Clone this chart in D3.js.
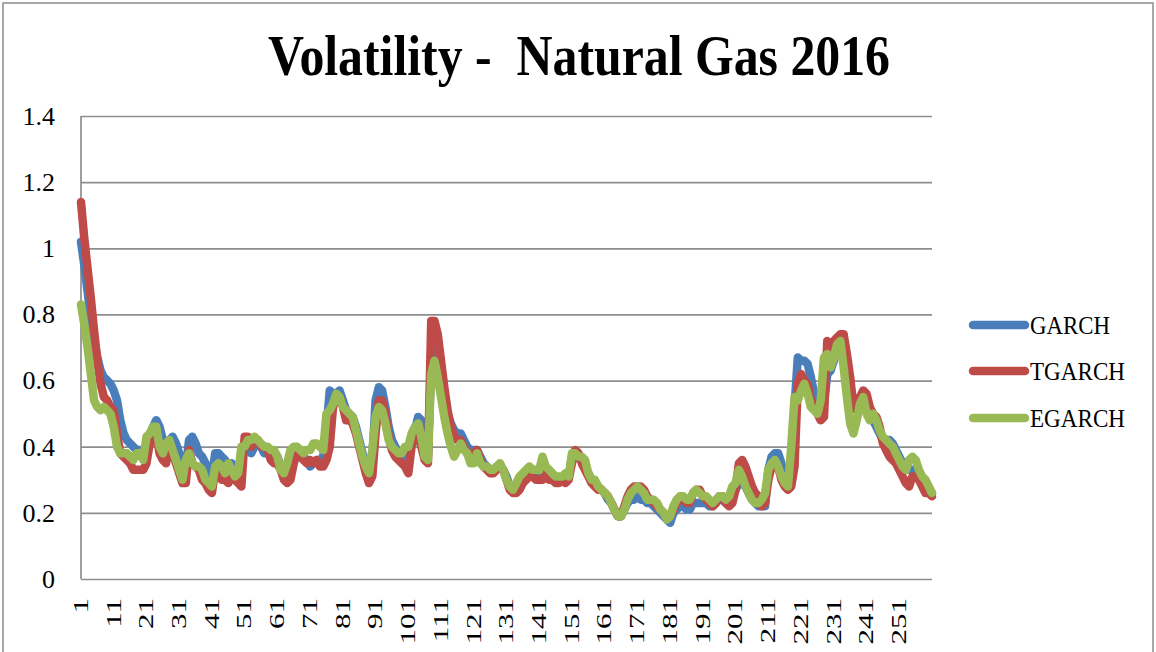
<!DOCTYPE html>
<html>
<head>
<meta charset="utf-8">
<script src="https://cdn.jsdelivr.net/npm/d3@7"></script>
<style>
  body { margin: 0; background: #fff; }
  svg { display: block; font-family: "Liberation Serif", "Times New Roman", serif; }
</style>
</head>
<body>
<div id="chart"></div>
<script>
'use strict';

// ---- data ----
var days = d3.range(1, 262);
var xTickLabels = d3.range(1, 252, 10);
var yTicks = [0, 0.2, 0.4, 0.6, 0.8, 1, 1.2, 1.4];
var yTickLabels = ['0', '0.2', '0.4', '0.6', '0.8', '1', '1.2', '1.4'];
var seriesNames = ['GARCH', 'TGARCH', 'EGARCH'];

var garch = [
  1.02,0.95,0.87,0.79,0.72,0.67,0.63,0.61,0.60,0.59,
  0.57,0.54,0.48,0.44,0.42,0.41,0.40,0.39,0.39,0.38,
  0.40,0.43,0.46,0.48,0.46,0.42,0.40,0.42,0.43,0.41,
  0.38,0.34,0.33,0.42,0.43,0.41,0.38,0.37,0.35,0.32,
  0.31,0.38,0.38,0.37,0.36,0.34,0.35,0.34,0.33,0.36,
  0.41,0.41,0.38,0.40,0.42,0.40,0.38,0.38,0.37,0.38,
  0.37,0.34,0.32,0.33,0.37,0.39,0.39,0.38,0.37,0.36,
  0.34,0.35,0.36,0.36,0.37,0.45,0.57,0.56,0.56,0.57,
  0.54,0.51,0.50,0.49,0.46,0.42,0.38,0.35,0.33,0.36,
  0.54,0.58,0.57,0.52,0.46,0.42,0.40,0.38,0.37,0.36,
  0.36,0.42,0.45,0.49,0.48,0.40,0.37,0.66,0.70,0.68,
  0.62,0.56,0.50,0.47,0.45,0.44,0.44,0.42,0.40,0.39,
  0.39,0.39,0.37,0.35,0.34,0.33,0.33,0.34,0.34,0.33,
  0.31,0.28,0.27,0.27,0.28,0.30,0.31,0.32,0.32,0.31,
  0.31,0.33,0.33,0.32,0.31,0.30,0.30,0.30,0.30,0.31,
  0.37,0.38,0.37,0.36,0.34,0.32,0.30,0.29,0.28,0.27,
  0.26,0.24,0.23,0.21,0.19,0.19,0.21,0.23,0.24,0.24,
  0.25,0.24,0.24,0.23,0.23,0.22,0.21,0.20,0.19,0.18,
  0.17,0.20,0.21,0.22,0.22,0.21,0.21,0.23,0.23,0.23,
  0.23,0.23,0.22,0.22,0.23,0.24,0.24,0.23,0.23,0.25,
  0.27,0.29,0.29,0.28,0.26,0.24,0.23,0.22,0.22,0.22,
  0.33,0.37,0.38,0.38,0.35,0.30,0.29,0.30,0.52,0.67,
  0.66,0.66,0.65,0.61,0.56,0.53,0.51,0.53,0.62,0.63,
  0.66,0.70,0.72,0.68,0.62,0.56,0.52,0.51,0.52,0.53,
  0.52,0.50,0.48,0.46,0.44,0.42,0.42,0.42,0.41,0.39,
  0.37,0.35,0.34,0.33,0.33,0.33,0.31,0.29,0.28,0.27,
  0.26
];

var tgarch = [
  1.14,1.03,0.94,0.85,0.75,0.66,0.59,0.55,0.54,0.52,
  0.51,0.44,0.38,0.37,0.36,0.35,0.33,0.33,0.33,0.33,
  0.35,0.41,0.45,0.44,0.38,0.36,0.35,0.41,0.38,0.35,
  0.32,0.29,0.29,0.39,0.35,0.34,0.33,0.30,0.29,0.27,
  0.26,0.33,0.33,0.30,0.30,0.29,0.32,0.30,0.29,0.28,
  0.43,0.43,0.40,0.42,0.42,0.40,0.40,0.39,0.36,0.35,
  0.35,0.33,0.30,0.29,0.30,0.35,0.38,0.37,0.36,0.35,
  0.36,0.35,0.36,0.34,0.34,0.36,0.40,0.52,0.55,0.55,
  0.52,0.48,0.48,0.47,0.44,0.40,0.36,0.32,0.29,0.31,
  0.44,0.54,0.54,0.50,0.43,0.39,0.37,0.36,0.35,0.34,
  0.32,0.40,0.44,0.44,0.40,0.36,0.35,0.78,0.78,0.74,
  0.66,0.58,0.51,0.46,0.43,0.42,0.42,0.40,0.38,0.38,
  0.38,0.39,0.36,0.34,0.33,0.32,0.32,0.33,0.34,0.33,
  0.30,0.27,0.26,0.26,0.27,0.29,0.30,0.31,0.31,0.30,
  0.30,0.30,0.32,0.30,0.30,0.29,0.29,0.30,0.29,0.30,
  0.35,0.39,0.38,0.35,0.33,0.31,0.29,0.28,0.27,0.27,
  0.26,0.25,0.23,0.21,0.19,0.19,0.22,0.25,0.27,0.28,
  0.28,0.28,0.27,0.25,0.24,0.23,0.22,0.21,0.20,0.19,
  0.19,0.21,0.23,0.24,0.24,0.23,0.23,0.26,0.27,0.27,
  0.25,0.24,0.23,0.22,0.23,0.25,0.25,0.23,0.22,0.23,
  0.27,0.35,0.36,0.34,0.31,0.28,0.26,0.25,0.22,0.23,
  0.30,0.34,0.35,0.34,0.30,0.28,0.27,0.28,0.34,0.59,
  0.62,0.60,0.59,0.54,0.52,0.50,0.48,0.49,0.72,0.70,
  0.72,0.73,0.74,0.74,0.68,0.61,0.52,0.51,0.55,0.57,
  0.56,0.52,0.50,0.49,0.46,0.41,0.39,0.37,0.36,0.35,
  0.33,0.31,0.29,0.28,0.31,0.31,0.30,0.28,0.26,0.26,
  0.25
];

var egarch = [
  0.83,0.77,0.70,0.62,0.54,0.52,0.51,0.52,0.51,0.50,
  0.46,0.40,0.38,0.38,0.38,0.37,0.36,0.38,0.38,0.36,
  0.43,0.44,0.46,0.46,0.40,0.38,0.41,0.42,0.39,0.36,
  0.33,0.30,0.36,0.38,0.35,0.34,0.34,0.33,0.30,0.29,
  0.28,0.34,0.35,0.34,0.32,0.35,0.33,0.31,0.32,0.40,
  0.40,0.42,0.42,0.43,0.42,0.41,0.40,0.40,0.39,0.39,
  0.37,0.33,0.32,0.35,0.39,0.40,0.40,0.39,0.38,0.39,
  0.39,0.41,0.41,0.40,0.39,0.50,0.51,0.53,0.56,0.55,
  0.52,0.51,0.50,0.49,0.45,0.41,0.37,0.34,0.32,0.39,
  0.49,0.52,0.51,0.47,0.42,0.40,0.39,0.38,0.38,0.40,
  0.40,0.44,0.46,0.47,0.43,0.37,0.36,0.62,0.66,0.61,
  0.55,0.49,0.44,0.40,0.37,0.39,0.41,0.39,0.38,0.35,
  0.35,0.38,0.35,0.34,0.34,0.33,0.33,0.34,0.35,0.33,
  0.30,0.28,0.27,0.29,0.31,0.32,0.33,0.34,0.33,0.33,
  0.33,0.37,0.34,0.33,0.32,0.31,0.31,0.31,0.32,0.31,
  0.38,0.38,0.37,0.37,0.36,0.32,0.30,0.30,0.28,0.27,
  0.26,0.25,0.23,0.21,0.19,0.19,0.21,0.24,0.26,0.27,
  0.28,0.27,0.26,0.24,0.24,0.24,0.23,0.21,0.20,0.18,
  0.19,0.22,0.24,0.25,0.25,0.24,0.24,0.26,0.27,0.26,
  0.25,0.25,0.24,0.23,0.24,0.25,0.25,0.24,0.25,0.28,
  0.29,0.33,0.31,0.28,0.26,0.24,0.23,0.23,0.24,0.26,
  0.33,0.35,0.36,0.34,0.31,0.29,0.28,0.40,0.55,0.54,
  0.57,0.59,0.56,0.52,0.51,0.50,0.54,0.67,0.68,0.64,
  0.67,0.71,0.72,0.64,0.55,0.47,0.44,0.48,0.53,0.55,
  0.50,0.48,0.50,0.48,0.45,0.43,0.42,0.41,0.40,0.38,
  0.36,0.34,0.33,0.36,0.37,0.36,0.33,0.31,0.30,0.28,
  0.26
];

var colors = ['#4a7ebb', '#be4b48', '#98b954'];

// ---- layout ----
var W = 1156, H = 652;
var plot = { left: 81, right: 932, top: 116, bottom: 579 };

var svg = d3.select('#chart').append('svg')
    .attr('width', W)
    .attr('height', H);

svg.append('rect')
    .attr('width', W).attr('height', H)
    .attr('fill', '#fff');

// outer chart border
svg.append('rect')
    .attr('x', 3).attr('y', 3)
    .attr('width', 1150).attr('height', 670)
    .attr('fill', 'none')
    .attr('stroke', '#8c8c8c')
    .attr('stroke-width', 1.5);

var x = d3.scalePoint()
    .domain(days)
    .range([plot.left, plot.right]);

var y = d3.scaleLinear()
    .domain([0, 1.4])
    .range([plot.bottom, plot.top]);

// title (double space kept as in the original)
svg.append('text')
    .attr('x', 579)
    .attr('y', 75)
    .attr('text-anchor', 'middle')
    .attr('font-weight', 'bold')
    .attr('font-size', 57)
    .attr('textLength', 622)
    .attr('lengthAdjust', 'spacingAndGlyphs')
    .style('white-space', 'pre')
    .text('Volatility -  Natural Gas 2016');

// y axis with gridlines
var yAxis = d3.axisLeft(y)
    .tickValues(yTicks)
    .tickFormat(function(d, i) { return yTickLabels[i]; })
    .tickSize(-(plot.right - plot.left))
    .tickPadding(26);

var gy = svg.append('g')
    .attr('transform', 'translate(' + plot.left + ',0)')
    .call(yAxis);
gy.select('.domain').remove();
gy.selectAll('line')
    .attr('stroke', '#8e8e8e')
    .attr('stroke-width', 1.7);
gy.selectAll('text')
    .attr('font-family', '"Liberation Serif", serif')
    .attr('font-size', 26)
    .attr('fill', '#000');

// left axis line
svg.append('line')
    .attr('x1', plot.left).attr('x2', plot.left)
    .attr('y1', plot.top).attr('y2', plot.bottom)
    .attr('stroke', '#8e8e8e')
    .attr('stroke-width', 1.7);

// x labels, rotated
svg.append('g')
    .selectAll('text')
    .data(xTickLabels)
    .enter().append('text')
    .attr('transform', function(d) {
        return 'translate(' + x(d) + ',598) rotate(-90) scale(1.55,1)';
    })
    .attr('text-anchor', 'end')
    .attr('dy', '0.34em')
    .attr('font-size', 20)
    .text(function(d) { return d; });

// series
var line = d3.line()
    .x(function(d, i) { return x(days[i]); })
    .y(function(d) { return y(d); });

var series = [garch, tgarch, egarch];
svg.append('g')
    .selectAll('path')
    .data(series)
    .enter().append('path')
    .attr('d', line)
    .attr('fill', 'none')
    .attr('stroke', function(d, i) { return colors[i]; })
    .attr('stroke-width', 8.5)
    .attr('stroke-linejoin', 'round')
    .attr('stroke-linecap', 'round');

// legend
var legendY = [325, 371, 418];
var legendLen = [80, 95, 95];
var legend = svg.append('g')
    .selectAll('g')
    .data(seriesNames)
    .enter().append('g')
    .attr('transform', function(d, i) { return 'translate(0,' + legendY[i] + ')'; });
legend.append('line')
    .attr('x1', 973).attr('x2', 1025)
    .attr('stroke', function(d, i) { return colors[i]; })
    .attr('stroke-width', 8.5)
    .attr('stroke-linecap', 'round');
legend.append('text')
    .attr('x', 1030)
    .attr('y', 9)
    .attr('font-size', 25)
    .attr('textLength', function(d, i) { return legendLen[i]; })
    .attr('lengthAdjust', 'spacingAndGlyphs')
    .text(function(d) { return d; });
</script>
</body>
</html>
